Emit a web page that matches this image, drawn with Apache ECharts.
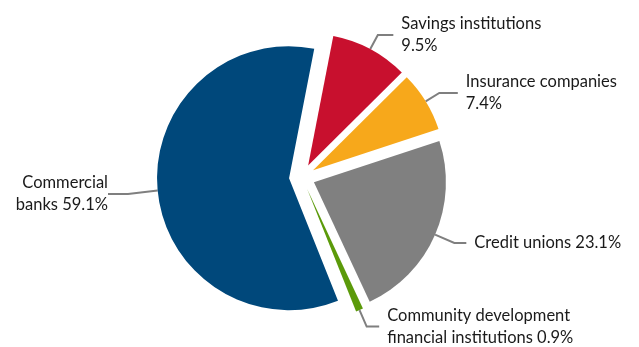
<!DOCTYPE html>
<html><head><meta charset="utf-8">
<script src="https://cdn.jsdelivr.net/npm/echarts@6/dist/echarts.min.js"></script>
<style>html,body{margin:0;padding:0;background:#fff}#c{width:639px;height:347px}</style>
</head><body><div id="c"></div>
<script>
const categories = ['Savings institutions', 'Insurance companies', 'Credit unions', 'Community development financial institutions', 'Commercial banks'];
const shares = [9.5, 7.4, 23.1, 0.9, 59.1];
const colors = ['#c8102e', '#f7a81b', '#808080', '#5b9a0a', '#00487b'];
const labelTexts = {
  'Savings institutions': v => 'Savings institutions\n' + v + '%',
  'Insurance companies': v => 'Insurance companies\n' + v + '%',
  'Credit unions': v => 'Credit unions ' + v + '%',
  'Community development financial institutions': v => 'Community development\nfinancial institutions ' + v + '%',
  'Commercial banks': v => 'Commercial\nbanks ' + v + '%'
};
// leader line lengths [radial, horizontal]
const leader = [[16, 15.5], [16, 18.5], [21, 12], [18, 12.5], [10, 20]];

const C = [302, 177], R = 132, START = 79, EXPLODE = 13;
const total = shares.reduce((a, b) => a + b, 0);
let cum = 0;
const series = categories.map((name, i) => {
  const mid = (START - (cum + shares[i] / 2) / total * 360) * Math.PI / 180;
  cum += shares[i];
  const center = [C[0] + EXPLODE * Math.cos(mid), C[1] - EXPLODE * Math.sin(mid)];
  const s = {
    type: 'pie',
    center: center,
    radius: R,
    startAngle: START,
    clockwise: true,
    silent: true,
    avoidLabelOverlap: false,
    emphasis: {disabled: true},
    label: {
      formatter: p => labelTexts[p.name](p.value),
      fontFamily: 'Lato',
      fontSize: 16.5,
      lineHeight: 22,
      color: '#1a1a1a',
      distanceToLabelLine: 8
    },
    labelLine: {show: true, length: leader[i][0], length2: leader[i][1], lineStyle: {color: '#7f7f7f', width: 2}},
    data: categories.map((c, j) => j === i
      ? {name: c, value: shares[j], itemStyle: {color: colors[j]}}
      : {name: c, value: shares[j], itemStyle: {color: 'rgba(0,0,0,0)'}, label: {show: false}, labelLine: {show: false}})
  };
  if (name === 'Commercial banks') {
    s.labelLayout = p => p.dataIndex === i ? {x: 108, y: 194, align: 'right', verticalAlign: 'middle'} : {};
  }
  return s;
});

const chart = echarts.init(document.getElementById('c'));
chart.setOption({animation: false, series: series});
</script></body></html>
